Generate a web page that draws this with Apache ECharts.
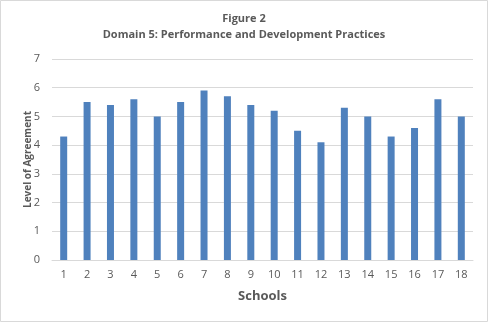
<!DOCTYPE html>
<html>
<head>
<meta charset="utf-8">
<script src="https://cdn.jsdelivr.net/npm/echarts@6/dist/echarts.min.js"></script>
<style>
  html, body { margin: 0; padding: 0; background: #fff; }
  #chart { width: 488px; height: 322px; }
</style>
</head>
<body>
<div id="chart"></div>
<script>
// Schools along the x axis
const schools = ['1','2','3','4','5','6','7','8','9','10','11','12','13','14','15','16','17','18'];
// Mean level of agreement per school
const agreement = [4.3, 5.5, 5.4, 5.6, 5.0, 5.5, 5.9, 5.7, 5.4, 5.2, 4.5, 4.1, 5.3, 5.0, 4.3, 4.6, 5.6, 5.0];

const FONT = '"Open Sans", "Noto Sans", sans-serif';
const TEXT = '#595959';
const GRID = '#d9d9d9';

const chart = echarts.init(document.getElementById('chart'), null, { renderer: 'canvas' });
chart.setOption({
  animation: false,
  backgroundColor: '#fff',
  graphic: [{
    type: 'rect',
    shape: { x: 0.5, y: 0.5, width: 487, height: 321 },
    style: { fill: 'none', stroke: GRID, lineWidth: 1 },
    silent: true
  }],
  title: {
    text: 'Figure 2\nDomain 5: Performance and Development Practices',
    left: 'center',
    top: 6,
    textStyle: { fontFamily: FONT, fontSize: 11, fontWeight: 'bold', color: TEXT, lineHeight: 16 }
  },
  grid: { left: 52, right: 15, top: 59, bottom: 62, containLabel: false },
  xAxis: {
    type: 'category',
    data: schools,
    name: 'Schools',
    nameLocation: 'middle',
    nameGap: 30,
    nameMoveOverlap: false,
    nameTextStyle: { fontFamily: FONT, fontSize: 13, fontWeight: 'bold', color: TEXT },
    axisLine: { lineStyle: { color: GRID } },
    axisTick: { show: false },
    axisLabel: { fontFamily: FONT, fontSize: 11, color: TEXT, margin: 9 }
  },
  yAxis: {
    type: 'value',
    min: 0, max: 7, interval: 1,
    name: 'Level of Agreement',
    nameLocation: 'middle',
    nameGap: 19,
    nameMoveOverlap: false,
    nameTextStyle: { fontFamily: FONT, fontSize: 10, fontWeight: 'bold', color: TEXT },
    axisLine: { show: false },
    axisTick: { show: false },
    splitLine: { lineStyle: { color: GRID } },
    axisLabel: { fontFamily: FONT, fontSize: 11, color: TEXT, margin: 12 }
  },
  series: [{
    type: 'bar',
    data: agreement,
    barWidth: 7,
    itemStyle: { color: '#4f81bd' }
  }]
});
</script>
</body>
</html>
